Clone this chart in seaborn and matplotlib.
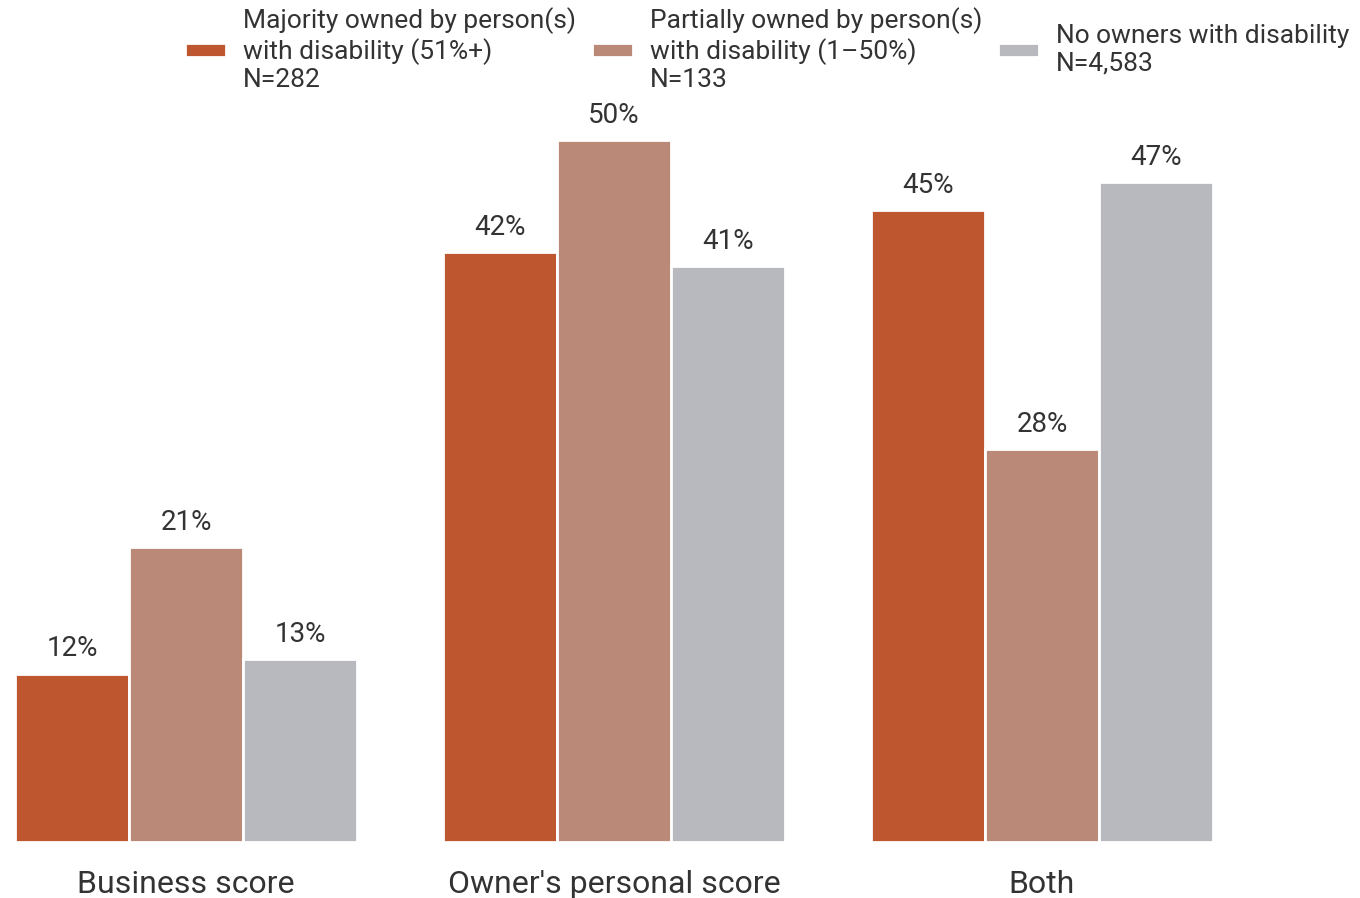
import pandas as pd
import seaborn as sns
import matplotlib.pyplot as plt

# data
groups = ["Business score", "Owner's personal score", "Both"]
series = [
    "Majority owned by person(s)\nwith disability (51%+)\nN=282",
    "Partially owned by person(s)\nwith disability (1\u201350%)\nN=133",
    "No owners with disability\nN=4,583",
]
majority = [12, 42, 45]
partial = [21, 50, 28]
no_owner = [13, 41, 47]

colors = ["#BE5730", "#BB8978", "#B8B9BE"]

df = pd.DataFrame({
    "group": groups * 3,
    "series": [series[0]] * 3 + [series[1]] * 3 + [series[2]] * 3,
    "value": majority + partial + no_owner,
})

sns.set_style("white")
plt.rcParams["font.family"] = ["Roboto", "DejaVu Sans"]
text_color = "#333333"

fig = plt.figure(figsize=(13.6, 8.98), dpi=100)
ax = fig.add_axes([0.011, 0.0624, 0.881, 0.7816])

sns.barplot(data=df, x="group", y="value", hue="series", hue_order=series,
            order=groups, palette=colors, width=0.8, gap=0,
            edgecolor="white", linewidth=2, saturation=1, ax=ax)

for cont in ax.containers:
    ax.bar_label(cont, labels=[f"{v:.0f}%" for v in cont.datavalues],
                 padding=8, fontsize=20, color=text_color)

ax.set_ylim(0, 50)
ax.set_xlim(-0.4, 2.4)
ax.set_xlabel("")
ax.set_ylabel("")
ax.set_yticks([])
ax.tick_params(axis="x", length=0, pad=20, labelsize=23, labelcolor=text_color)
sns.despine(ax=ax, left=True, bottom=True)

handles, labels = ax.get_legend_handles_labels()
ax.get_legend().remove()
leg = fig.legend(handles, labels, loc="upper center", bbox_to_anchor=(0.564, 1.018),
                 ncol=3, frameon=False, fontsize=19, labelcolor=text_color,
                 handlelength=1.55, handleheight=0.45, handletextpad=0.65,
                 columnspacing=0.6)
for t in leg.get_texts():
    t.set_linespacing(1.17)

fig.savefig("out.png", dpi=100)
